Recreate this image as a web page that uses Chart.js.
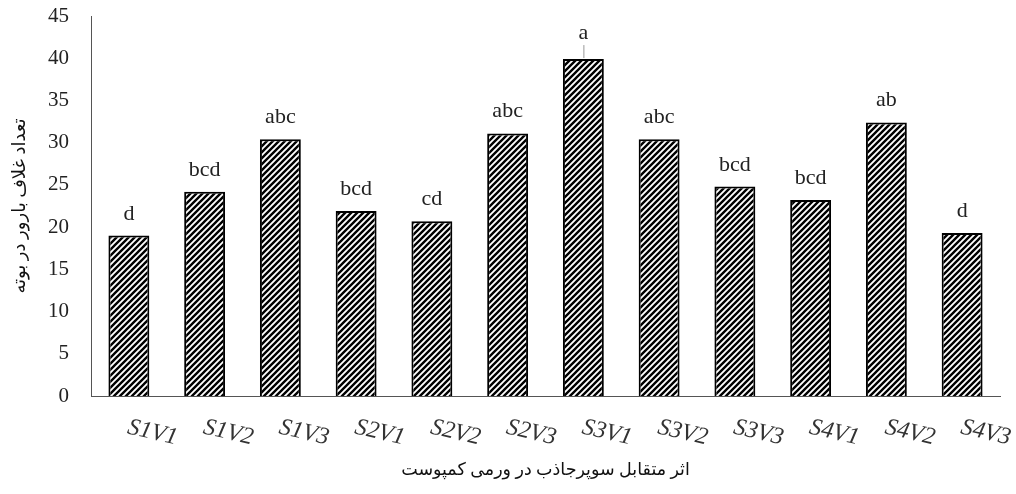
<!DOCTYPE html>
<html><head><meta charset="utf-8">
<script src="https://cdn.jsdelivr.net/npm/chart.js@4.4.1/dist/chart.umd.min.js"></script>
<style>html,body{margin:0;padding:0;background:#fff;} #wrap{width:1016px;height:494px;position:relative;}</style>
</head><body><div id="wrap"><canvas id="c"></canvas></div>
<script>
const categories = ['S1V1','S1V2','S1V3','S2V1','S2V2','S2V3','S3V1','S3V2','S3V3','S4V1','S4V2','S4V3'];
const values = [19.0, 24.2, 30.4, 21.9, 20.7, 31.1, 39.9, 30.4, 24.8, 23.2, 32.4, 19.3];
const letters = ['d','bcd','abc','bcd','cd','abc','a','abc','bcd','bcd','ab','d'];
const yTicks = [0,5,10,15,20,25,30,35,40,45];
const yTitle = 'تعداد غلاف بارور در بوته';
const xTitle = 'اثر متقابل سوپرجاذب در ورمی کمپوست';

const canvas = document.getElementById('c');
function hatch(){
  const s = 6, t = document.createElement('canvas');
  t.width = s; t.height = s;
  const g = t.getContext('2d');
  g.fillStyle = '#fff'; g.fillRect(0,0,s,s);
  g.strokeStyle = '#000'; g.lineWidth = 2.4;
  g.beginPath();
  g.moveTo(-2, s+2); g.lineTo(s+2, -2);
  g.moveTo(-2, 2); g.lineTo(2, -2);
  g.moveTo(s-2, s+2); g.lineTo(s+2, s-2);
  g.stroke();
  return canvas.getContext('2d').createPattern(t, 'repeat');
}

const serif = '"Liberation Serif", "Times New Roman", "DejaVu Sans", serif';

const annot = {
  id: 'annot',
  afterDatasetsDraw(chart){
    const ctx = chart.ctx, meta = chart.getDatasetMeta(0), xs = chart.scales.x;
    ctx.save();
    ctx.font = '22px ' + serif;
    ctx.fillStyle = '#222';
    ctx.textAlign = 'center';
    ctx.textBaseline = 'alphabetic';
    meta.data.forEach((bar, i) => {
      const lead = letters[i] === 'a';
      ctx.fillText(letters[i], bar.x, bar.y - (lead ? 20 : 16));
      if (lead) {
        ctx.strokeStyle = '#999'; ctx.lineWidth = 1;
        ctx.beginPath(); ctx.moveTo(bar.x + 0.5, bar.y - 1); ctx.lineTo(bar.x + 0.5, bar.y - 14); ctx.stroke();
      }
    });
    ctx.font = 'italic 24px ' + serif;
    ctx.fillStyle = '#333';
    ctx.textAlign = 'left';
    ctx.textBaseline = 'middle';
    categories.forEach((c, i) => {
      const x = xs.getPixelForValue(i);
      ctx.save();
      ctx.translate(x - 1, chart.chartArea.bottom + 31);
      ctx.rotate(13 * Math.PI / 180);
      ctx.fillText(c, 0, 0);
      ctx.restore();
    });
    ctx.restore();
  }
};

new Chart(canvas, {
  type: 'bar',
  data: {
    labels: categories,
    datasets: [{
      data: values,
      backgroundColor: hatch(),
      borderColor: '#000',
      borderWidth: 2,
      barPercentage: 0.54,
      categoryPercentage: 1.0
    }]
  },
  options: {
    responsive: true,
    maintainAspectRatio: false,
    animation: false,
    devicePixelRatio: 1,
    layout: { padding: { top: 16, right: 16, bottom: 0, left: 0 } },
    plugins: { legend: { display: false }, tooltip: { enabled: false } },
    scales: {
      x: {
        grid: { display: false, drawTicks: false },
        border: { display: true, color: '#555', width: 1 },
        ticks: { display: false },
        title: { display: true, text: xTitle, color: '#111', font: { family: serif, size: 17.5 }, padding: { top: 60, bottom: 13 } },
        afterFit(s){ s.height = 98; s.paddingLeft = 0; s.paddingRight = 0; }
      },
      y: {
        min: 0, max: 45,
        afterBuildTicks(s){ s.ticks = yTicks.map(v => ({ value: v })); },
        grid: { display: false, drawTicks: false },
        border: { display: true, color: '#555', width: 1 },
        ticks: { color: '#222', font: { family: serif, size: 21 }, padding: 22 },
        title: { display: true, text: yTitle, color: '#111', font: { family: serif, size: 18 }, padding: { top: 9, bottom: 0 } },
        afterFit(s){ s.width = 91; s.paddingTop = 0; s.paddingBottom = 0; }
      }
    }
  },
  plugins: [annot]
});
</script>
</body></html>
